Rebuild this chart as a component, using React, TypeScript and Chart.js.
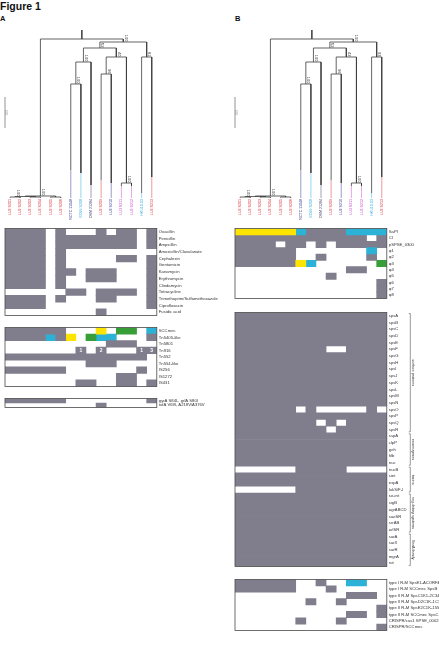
import React, { useEffect, useRef } from 'react';
import { Chart, registerables } from 'chart.js';
Chart.register(...registerables);

const FONT = '"Liberation Sans", Arial, sans-serif';

// ---------- strains (leaves, left to right) ----------
const strainNames = [
  'LU3 S201', 'LU3 S202', 'LU3 S203', 'LU3 S204', 'LU3 S205', 'LU3 S206',
  'NCTC 11048', 'ED99 S208', 'DSM 21284', 'LU3 S209', 'LU3 S210',
  'LU3 S211', 'LU3 S212', 'HKU10-03', 'LU3 S213',
];
const strainColors = [
  '#d8262c', '#d8262c', '#d8262c', '#d8262c', '#d8262c', '#d8262c',
  '#2b2f8f', '#2aa7dc', '#3a3a6a', '#d8262c', '#2b2f8f',
  '#c43cc4', '#c43cc4', '#2aa7dc', '#d8262c',
];

// ---------- tree: [node, left child, right child, depth from root] ----------
const treeNodes: [string, string, string, number][] = [
  ['root', 'C0', 'R1', 9],
  ['R1', 'R2', 'R8', 12],
  ['R2', 'R3', 'R5', 18],
  ['R3', 'R4', 'L8', 32],
  ['R4', 'L6', 'L7', 54],
  ['R5', 'R6', 'R7', 27],
  ['R6', 'L9', 'L10', 44],
  ['R7', 'L11', 'L12', 153],
  ['R8', 'L13', 'L14', 27],
  ['C0', 'C1', 'C2', 166],
  ['C1', 'C3', 'C4', 166.5],
  ['C3', 'L0', 'L1', 167],
  ['C4', 'L2', 'L3', 167],
  ['C2', 'L4', 'L5', 167],
];
const leafDepths = [167.5, 167.5, 167.5, 167.5, 167.5, 167.5, 140, 143, 155, 150, 153, 156, 156, 163, 147];
const treeBaseline = 168;
const supportNodes = ['R1', 'R2', 'R3', 'R4', 'R5', 'R6', 'R7', 'R8', 'C0', 'C3'];
const supportA = ['100', '52', '100', '100', '40', '96', '100', '81', '100', '100'];
const supportB = ['100', '52', '100', '100', '42', '96', '100', '93', '100', '100'];
const scaleBarLength = 31;
const scaleBarLabel = '0.01';

// ---------- panel A ----------
const resistRows = [
  'Oxacillin', 'Penicillin', 'Ampicillin', 'Amoxicillin/Clavulanate', 'Cephalexin', 'Gentamicin',
  'Kanamycin', 'Erythromycin', 'Clindamycin', 'Tetracycline', 'Trimethoprim/Sulfamethoxazole',
  'Ciprofloxacin', 'Fusidic acid',
];
const resistCells = [
  'gggg.g...g.gg.g',
  'gggg.gggggggg.g',
  'gggg.gggggggg.g',
  'gggg.g.........',
  'gggg.g.....gg.g',
  'gggg.g........g',
  'gggg.gg.ggg...g',
  'gggg.g..ggg...g',
  'gggg.g........g',
  '......gg.gggg.g',
  'gggg.g...gg...g',
  'gggg..........g',
  '.........g.....',
];
const mobileRows = ['SCCmec', 'Tn5405-like', 'Tn5801', 'Tn916', 'Tn552', 'Tn554-like', 'IS256', 'IS1272', 'IS431'];
const mobileCells = [
  'gggggg...y.nn.c',
  'ggggcgy.ncc...g',
  '..........ggg..',
  '.......g.g...gg',
  'gggggggggggggg.',
  '........ggg....',
  'gggggg.......g.',
  '...........gg..',
  '.......gg..gg.g',
];
const tn916Copies = ['', '', '', '', '', '', '', '1', '', '2', '', '', '', '1', '3'];
const mutationRows = ['gyrA S84L, grlA S80I', 'tufA V69I, A218V/A376V'];
const mutationCells = [
  'gggggg........g',
  '.........g.....',
];

// ---------- panel B ----------
const islandRows = ['SaPI', 'CI', 'pSPSE_0300', 'φ1', 'φ2', 'φ3', 'φ4', 'φ5', 'φ6', 'φ7', 'φ8'];
const islandCells = [
  'yyyyyycggggcccc',
  'ggggggggggggg.g',
  'gggg.gg.g.ggggg',
  'gggggg.......c.',
  'gggggg..g....g.',
  'ggggggyc......n',
  '...........gg..',
  '.........g.....',
  '..............g',
  '..............g',
  '..............g',
];
const virulenceRows = [
  'spsA', 'spsB', 'spsC', 'spsD', 'spsE', 'spsF', 'spsG', 'spsH', 'spsI', 'spsJ',
  'spsK', 'spsL', 'spsM', 'spsN', 'spsO', 'spsP', 'spsQ', 'spsR',
  'sspA', 'clpP', 'geh', 'hlb', 'nuc',
  'nucB', 'siet', 'expA', 'lukS/F-I',
  'se-int', 'sigB', 'agrABCD', 'saeSR', 'srrAB', 'arlSR',
  'sarA', 'sarX', 'sarR', 'mgrA', 'rot',
];
const virulenceCells = [
  'ggggggggggggggg', 'ggggggggggggggg', 'ggggggggggggggg', 'ggggggggggggggg', 'ggggggggggggggg',
  'ggggggggg..gggg', 'ggggggggggggggg', 'ggggggggggggggg', 'ggggggggggggggg', 'ggggggggggggggg',
  'ggggggggggggggg', 'ggggggggggggggg', 'ggggggggggggggg', 'ggggggggggggggg', 'gggggg.g.....g.',
  'ggggggggggggggg', 'gggggggg.g.gggg', 'ggggggggg.ggggg',
  'ggggggggggggggg', 'ggggggggggggggg', 'ggggggggggggggg', 'ggggggggggggggg', 'ggggggggggggggg',
  '......ggggg....', 'ggggggggggggggg', 'ggggggggggggggg', '......ggggggggg',
  'ggggggggggggggg', 'ggggggggggggggg', 'ggggggggggggggg', 'ggggggggggggggg', 'ggggggggggggggg', 'ggggggggggggggg',
  'ggggggggggggggg', 'ggggggggggggggg', 'ggggggggggggggg', 'ggggggggggggggg', 'ggggggggggggggg',
];
const virulenceGroups = ['surface proteins', 'exoenzymes', 'toxins', 'regulatory systems', 'SarA family'];
const virulenceGroupFirst = [0, 18, 23, 27, 33];
const virulenceGroupLast = [17, 22, 26, 32, 37];
const defenceRows = [
  'type I R-M SpsE1-ACORFA', 'type I R-M SCCmec SpsB', 'type II R-M SpsC1K1-2C34P', 'type II R-M SpsD2C1K-1C3P',
  'type II R-M SpsE2C1K-155', 'type II R-M SCCmec SpsC', 'CRISPR/cas1 SPSE_0002', 'CRISPR/SCCmec',
];
const defenceCells = [
  'gggggg..g..cc..',
  'gggggg...g.....',
  '...........ggg.',
  '.......g..g....',
  '..............g',
  '...........gg.g',
  '......g...g....',
  '..............g',
];

const CELL: Record<string, string> = {
  g: 'rgb(128,125,141)',
  y: 'rgb(255,228,0)',
  c: 'rgb(44,178,214)',
  n: 'rgb(56,158,56)',
};
const COLS = 15;
const COLW = 10.12;

function cellDatasets(rows: string[], cells: string[]) {
  const byColor: Record<string, { x: [number, number]; y: string }[]> = {};
  cells.forEach((row, r) => {
    let c = 0;
    while (c < row.length) {
      const ch = row[c];
      let e = c;
      while (e < row.length && row[e] === ch) e++;
      if (ch !== '.') (byColor[ch] = byColor[ch] || []).push({ x: [c, e], y: rows[r] });
      c = e;
    }
  });
  return Object.keys(byColor).map((k) => ({
    data: byColor[k],
    backgroundColor: CELL[k],
    borderWidth: 0,
    grouped: false,
    barPercentage: 1,
    categoryPercentage: 1,
  }));
}

type HeatProps = {
  left: number; top: number; height: number; labelW: number;
  rows: string[]; cells: string[];
  notes?: string[]; noteRow?: number;
  groups?: string[]; groupFirst?: number[]; groupLast?: number[];
};

function Heatmap(p: HeatProps) {
  const ref = useRef<HTMLCanvasElement>(null);
  const cl = Math.floor(p.left) - 1;
  const ct = Math.floor(p.top) - 1;
  const padL = p.left - cl;
  const padT = p.top - ct;
  const heatW = COLS * COLW;
  const cw = Math.ceil(padL + heatW + p.labelW);
  const ch = Math.ceil(padT + p.height + 1);
  const padB = ch - padT - p.height;
  const labelW = cw - padL - heatW;
  useEffect(() => {
    const frame = {
      id: 'frame',
      afterDatasetsDraw(chart: any) {
        const { ctx, chartArea: a, scales } = chart;
        ctx.save();
        ctx.strokeStyle = '#4a4a4a';
        ctx.lineWidth = 0.8;
        ctx.strokeRect(a.left, a.top, a.right - a.left, a.bottom - a.top);
        if (p.notes && p.noteRow !== undefined) {
          ctx.fillStyle = '#ffffff';
          ctx.font = `bold 5px ${FONT}`;
          ctx.textAlign = 'center';
          ctx.textBaseline = 'middle';
          const yy = scales.y.getPixelForValue(p.noteRow);
          p.notes.forEach((t, i) => {
            if (t) ctx.fillText(t, scales.x.getPixelForValue(i + 0.5), yy + 0.3);
          });
        }
        if (p.groups && p.groupFirst && p.groupLast) {
          const half = (scales.y.getPixelForValue(1) - scales.y.getPixelForValue(0)) / 2;
          const bx = a.right + 23.5;
          ctx.strokeStyle = '#555';
          ctx.lineWidth = 0.6;
          ctx.fillStyle = '#333';
          ctx.font = `3.8px ${FONT}`;
          ctx.textAlign = 'center';
          ctx.textBaseline = 'bottom';
          p.groups.forEach((g, i) => {
            const y0 = scales.y.getPixelForValue(p.groupFirst![i]) - half + 1;
            const y1 = scales.y.getPixelForValue(p.groupLast![i]) + half - 1;
            ctx.beginPath();
            ctx.moveTo(bx - 1.5, y0);
            ctx.lineTo(bx, y0);
            ctx.lineTo(bx, y1);
            ctx.lineTo(bx - 1.5, y1);
            ctx.stroke();
            ctx.save();
            ctx.translate(bx + 1, (y0 + y1) / 2);
            ctx.rotate(Math.PI / 2);
            ctx.fillText(g, 0, 0);
            ctx.restore();
          });
        }
        ctx.restore();
      },
    };
    const chart = new Chart(ref.current!, {
      type: 'bar',
      data: { labels: p.rows, datasets: cellDatasets(p.rows, p.cells) as any },
      options: {
        animation: false,
        responsive: false,
        maintainAspectRatio: false,
        indexAxis: 'y',
        layout: { padding: { left: padL, top: padT, bottom: padB, right: 0 } },
        plugins: { legend: { display: false }, tooltip: { enabled: false } },
        scales: {
          x: { type: 'linear', min: 0, max: COLS, display: false },
          y: {
            type: 'category',
            position: 'right',
            offset: true,
            grid: { display: false, drawTicks: false },
            border: { display: false },
            ticks: { autoSkip: false, padding: 2, color: '#333', font: { size: 4.2, family: FONT } },
            afterFit: (s: any) => { s.width = labelW; },
          },
        },
      } as any,
      plugins: [frame],
    });
    return () => chart.destroy();
  }, []);
  return (
    <canvas ref={ref} width={cw} height={ch}
      style={{ position: 'absolute', left: cl, top: ct, width: cw, height: ch }} />
  );
}

function layoutTree() {
  const pos: Record<string, number> = {};
  const depth: Record<string, number> = {};
  leafDepths.forEach((d, i) => { pos['L' + i] = i + 0.5; depth['L' + i] = d; });
  const byId: Record<string, [string, string, string, number]> = {};
  treeNodes.forEach((n) => { byId[n[0]] = n; });
  const place = (id: string): number => {
    if (pos[id] !== undefined) return pos[id];
    const n = byId[id];
    pos[id] = (place(n[1]) + place(n[2])) / 2;
    depth[id] = n[3];
    return pos[id];
  };
  place('root');
  return { pos, depth };
}

function Tree({ left, supports }: { left: number; supports: string[] }) {
  const ref = useRef<HTMLCanvasElement>(null);
  const padL = 4, padT = 12, axisH = 26;
  const top = 30;
  const heatW = COLS * COLW;
  const cl = Math.floor(left) - padL;
  const pl = left - cl;
  const cw = Math.ceil(pl + heatW + 4);
  const ch = padT + treeBaseline + axisH;
  useEffect(() => {
    const { pos, depth } = layoutTree();
    const datasets: any[] = [];
    const line = (pts: { x: number; y: number }[], color: string, w: number) => datasets.push({
      data: pts, showLine: true, borderColor: color, borderWidth: w, pointRadius: 0, tension: 0, clip: false,
    });
    leafDepths.forEach((d, i) => line([{ x: i + 0.5, y: d }, { x: i + 0.5, y: treeBaseline }], strainColors[i] + '40', 0.7));
    line([{ x: 0, y: 67 }, { x: 0, y: 67 + scaleBarLength }], '#b5b5b5', 0.7);
    line([{ x: pos['root'], y: 0 }, { x: pos['root'], y: depth['root'] }], '#3c3c3c', 0.8);
    treeNodes.forEach(([id, a, b, d]) => {
      line([
        { x: pos[a], y: depth[a] }, { x: pos[a], y: d },
        { x: pos[b], y: d }, { x: pos[b], y: depth[b] },
      ], '#3c3c3c', 0.8);
    });
    const labels = {
      id: 'support',
      afterDatasetsDraw(chart: any) {
        const { ctx, scales } = chart;
        ctx.save();
        ctx.fillStyle = '#333';
        ctx.font = `4px ${FONT}`;
        ctx.textAlign = 'right';
        ctx.textBaseline = 'bottom';
        supportNodes.forEach((id, i) => {
          const px = scales.x.getPixelForValue(pos[id]);
          const py = scales.y.getPixelForValue(depth[id]);
          ctx.save();
          ctx.translate(px + 0.6, py - 0.6);
          ctx.rotate(Math.PI / 2);
          ctx.fillText(supports[i], 0, 0);
          ctx.restore();
        });
        const sx = scales.x.getPixelForValue(0);
        const sy = scales.y.getPixelForValue(67 + scaleBarLength / 2);
        ctx.fillStyle = '#888';
        ctx.font = `2.6px ${FONT}`;
        ctx.textAlign = 'center';
        ctx.save();
        ctx.translate(sx - 1, sy);
        ctx.rotate(Math.PI / 2);
        ctx.fillText(scaleBarLabel, 0, 0);
        ctx.restore();
        ctx.restore();
      },
    };
    const chart = new Chart(ref.current!, {
      type: 'scatter',
      data: { datasets },
      options: {
        animation: false,
        responsive: false,
        maintainAspectRatio: false,
        layout: { padding: { left: pl, right: cw - pl - heatW, top: padT, bottom: 0 } },
        plugins: { legend: { display: false }, tooltip: { enabled: false } },
        scales: {
          x: {
            type: 'linear', min: 0, max: COLS,
            grid: { display: false, drawTicks: false }, border: { display: false },
            afterBuildTicks: (s: any) => { s.ticks = strainNames.map((_, i) => ({ value: i + 0.5 })); },
            afterFit: (s: any) => { s.height = axisH; },
            ticks: {
              autoSkip: false, minRotation: 90, maxRotation: 90, padding: 1,
              font: { size: 3.6, family: FONT },
              color: (c: any) => strainColors[c.index] || '#333',
              callback: (_v: any, i: number) => strainNames[i],
            },
          },
          y: { type: 'linear', min: 0, max: treeBaseline, reverse: true, display: false },
        },
      } as any,
      plugins: [labels],
    });
    return () => chart.destroy();
  }, []);
  return (
    <canvas ref={ref} width={cw} height={ch}
      style={{ position: 'absolute', left: cl, top: top - padT, width: cw, height: ch }} />
  );
}

export default function App() {
  const txt = (s: React.CSSProperties): React.CSSProperties => ({
    position: 'absolute', fontFamily: FONT, fontWeight: 'bold', color: '#111', lineHeight: 1, ...s,
  });
  return (
    <div style={{ position: 'absolute', left: 0, top: 0, width: 439, height: 660, background: '#fff', overflow: 'hidden' }}>
      <div style={txt({ left: 0, top: 1, fontSize: 10.5 })}>Figure 1</div>
      <div style={txt({ left: 0, top: 15, fontSize: 7.5 })}>A</div>
      <div style={txt({ left: 235, top: 15, fontSize: 7.5 })}>B</div>
      <Tree left={5} supports={supportA} />
      <Tree left={235} supports={supportB} />
      <Heatmap left={5} top={225.7} height={92.6} labelW={70} rows={resistRows} cells={resistCells} />
      <Heatmap left={5} top={324.3} height={64.7} labelW={70} rows={mobileRows} cells={mobileCells}
        notes={tn916Copies} noteRow={3} />
      <Heatmap left={5} top={395.3} height={15} labelW={70} rows={mutationRows} cells={mutationCells} />
      <Heatmap left={235} top={225.7} height={75.6} labelW={52} rows={islandRows} cells={islandCells} />
      <Heatmap left={235} top={309.3} height={259.9} labelW={52} rows={virulenceRows} cells={virulenceCells}
        groups={virulenceGroups} groupFirst={virulenceGroupFirst} groupLast={virulenceGroupLast} />
      <Heatmap left={235} top={576.7} height={56.6} labelW={52} rows={defenceRows} cells={defenceCells} />
    </div>
  );
}
